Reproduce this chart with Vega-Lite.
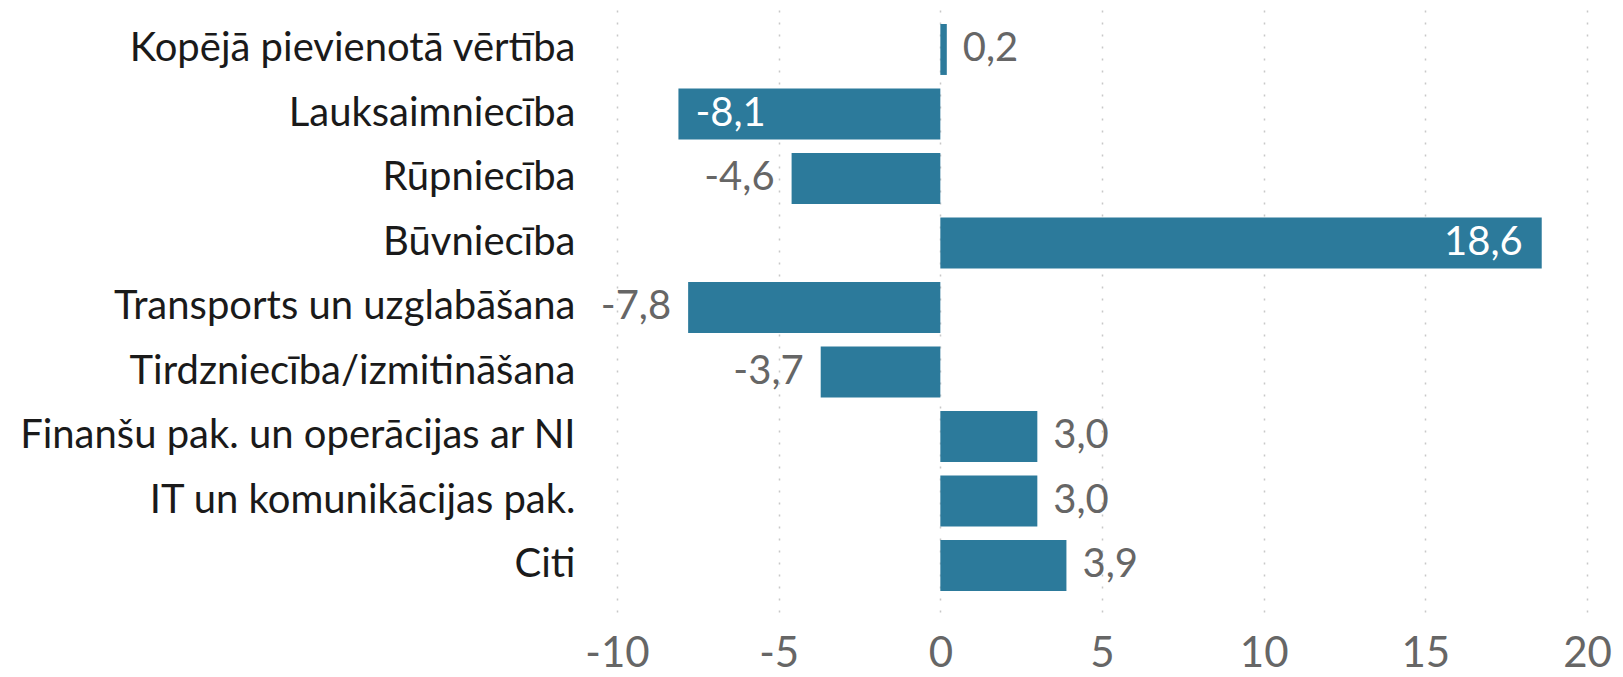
{
  "$schema": "https://vega.github.io/schema/vega-lite/v6.json",
  "autosize": {"type": "none"},
  "padding": {"left": 617, "top": 0, "right": 36, "bottom": 65},
  "width": 970,
  "height": 612,
  "background": "white",
  "config": {
    "locale": {"number": {"decimal": ",", "thousands": " ", "grouping": [3], "currency": ["", " €"], "minus": "-"}},
    "view": {"stroke": null},
    "font": "Lato",
    "text": {"font": "Lato"}
  },
  "data": {
    "values": [
      {"nozare": "Kopējā pievienotā vērtība", "vertiba": 0.2},
      {"nozare": "Lauksaimniecība", "vertiba": -8.1},
      {"nozare": "Rūpniecība", "vertiba": -4.6},
      {"nozare": "Būvniecība", "vertiba": 18.6},
      {"nozare": "Transports un uzglabāšana", "vertiba": -7.8},
      {"nozare": "Tirdzniecība/izmitināšana", "vertiba": -3.7},
      {"nozare": "Finanšu pak. un operācijas ar NI", "vertiba": 3.0},
      {"nozare": "IT un komunikācijas pak.", "vertiba": 3.0},
      {"nozare": "Citi", "vertiba": 3.9}
    ]
  },
  "encoding": {
    "y": {
      "field": "nozare", "type": "nominal", "sort": null, "title": null,
      "scale": {"paddingInner": 0.21, "paddingOuter": 0.349, "align": 0.533},
      "axis": {"domain": false, "ticks": false, "labelFontSize": 40, "labelColor": "#1a1a1a", "labelPadding": 42, "labelLimit": 0, "labelFont": "Lato"}
    },
    "x": {
      "field": "vertiba", "type": "quantitative", "title": null,
      "scale": {"domain": [-10, 20], "nice": false, "zero": true},
      "axis": {"values": [-10, -5, 0, 5, 10, 15, 20], "domain": false, "ticks": false, "grid": true, "gridColor": "#c8c8c8", "gridDash": [2, 10], "gridWidth": 1.5, "labelFontSize": 42, "labelColor": "#666666", "labelPadding": 21, "labelFlush": false, "labelFont": "Lato", "format": "d"}
    }
  },
  "layer": [
    {"mark": {"type": "bar", "color": "#2C7A9B"}},
    {
      "transform": [{"filter": "datum.vertiba > 0 && datum.vertiba < 10"}],
      "mark": {"type": "text", "align": "left", "baseline": "middle", "dx": 16, "fontSize": 40, "color": "#666666"},
      "encoding": {"text": {"field": "vertiba", "type": "quantitative", "format": ".1f"}}
    },
    {
      "transform": [{"filter": "datum.vertiba >= 10"}],
      "mark": {"type": "text", "align": "right", "baseline": "middle", "dx": -19, "fontSize": 40, "color": "white"},
      "encoding": {"text": {"field": "vertiba", "type": "quantitative", "format": ".1f"}}
    },
    {
      "transform": [{"filter": "datum.vertiba < 0 && datum.vertiba > -8"}],
      "mark": {"type": "text", "align": "right", "baseline": "middle", "dx": -17, "fontSize": 40, "color": "#666666"},
      "encoding": {"text": {"field": "vertiba", "type": "quantitative", "format": ".1f"}}
    },
    {
      "transform": [{"filter": "datum.vertiba <= -8"}],
      "mark": {"type": "text", "align": "left", "baseline": "middle", "dx": 17, "fontSize": 40, "color": "white"},
      "encoding": {"text": {"field": "vertiba", "type": "quantitative", "format": ".1f"}}
    }
  ]
}
